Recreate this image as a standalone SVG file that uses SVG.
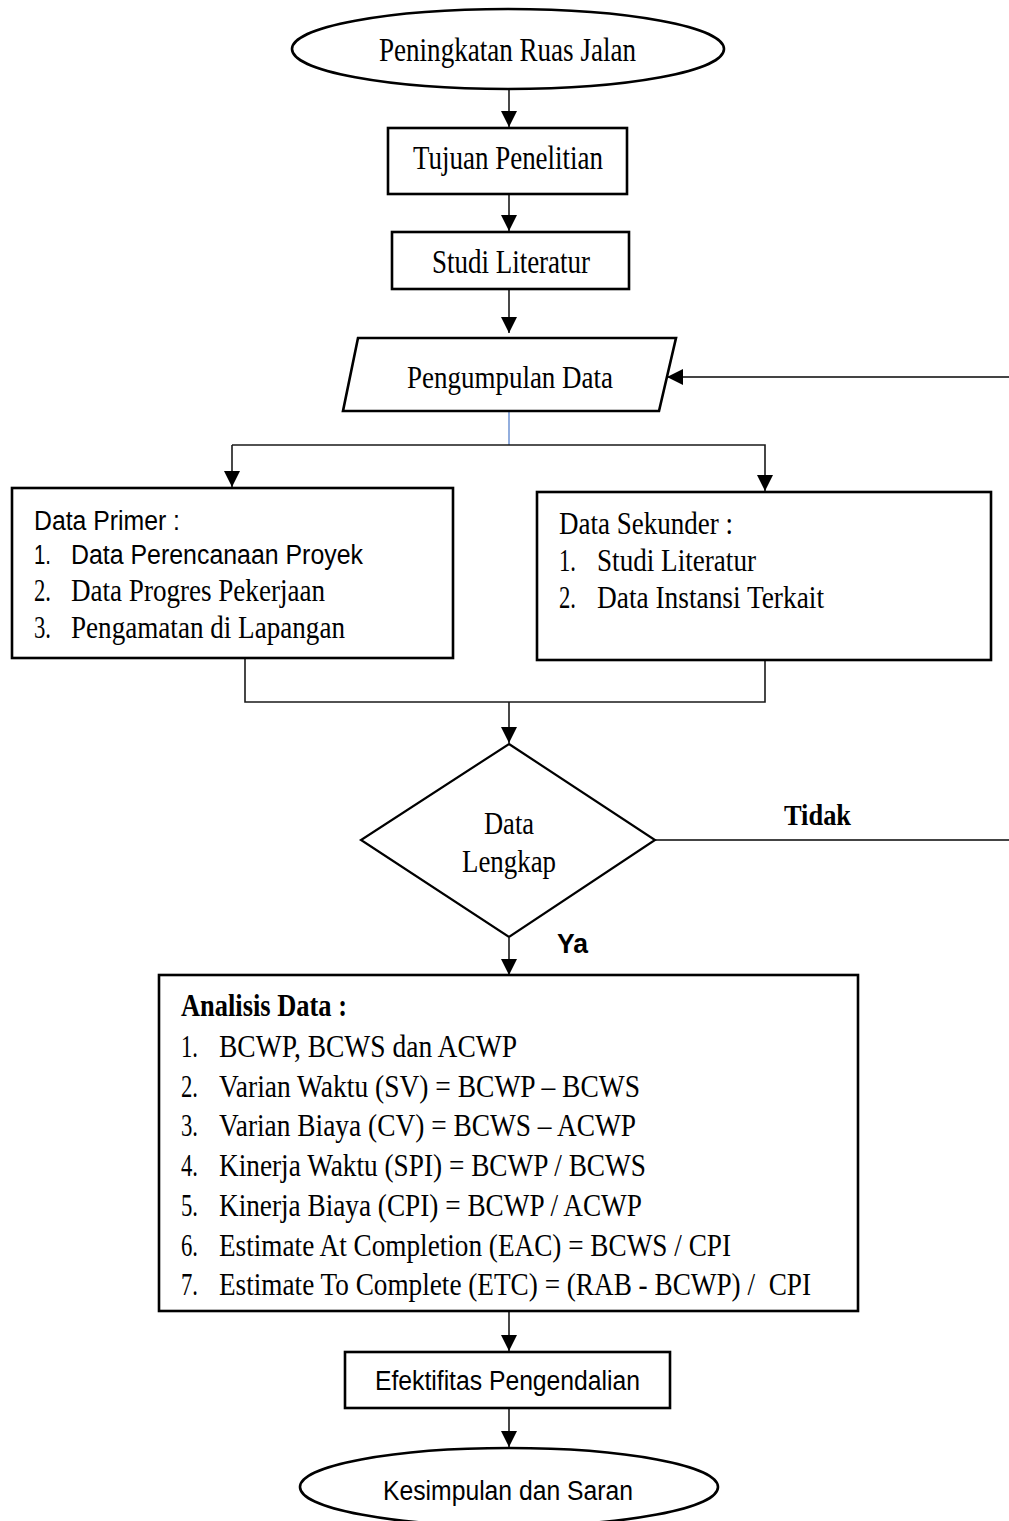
<svg xmlns="http://www.w3.org/2000/svg" width="1009" height="1521" viewBox="0 0 1009 1521">
<style>
.box{fill:#fff;stroke:#000;stroke-width:2.6}
.ln{fill:none;stroke:#1a1a1a;stroke-width:1.6}
.serif{font-family:"Liberation Serif","Times New Roman",serif;fill:#000}
.sans{font-family:"Liberation Sans",Arial,sans-serif;fill:#000}
</style>
<defs>
<marker id="ah" markerUnits="userSpaceOnUse" markerWidth="16" markerHeight="16" viewBox="0 0 16 16" refX="16" refY="8" orient="auto">
<path d="M0,0 L16,8 L0,16 Z" fill="#000"/>
</marker>
</defs>
<rect width="1009" height="1521" fill="#fff"/>

<g id="connectors">
<line class="ln" x1="509" y1="89" x2="509" y2="127" marker-end="url(#ah)"/>
<line class="ln" x1="509" y1="195" x2="509" y2="231" marker-end="url(#ah)"/>
<line class="ln" x1="509" y1="290" x2="509" y2="333" marker-end="url(#ah)"/>
<line x1="509" y1="411" x2="509" y2="445" stroke="#4a78c8" stroke-width="1.2"/>
<polyline class="ln" points="232,445 765,445 765,491" marker-end="url(#ah)"/>
<line class="ln" x1="232" y1="445" x2="232" y2="487" marker-end="url(#ah)"/>
<polyline class="ln" points="245,659 245,702 765,702 765,661"/>
<line class="ln" x1="509" y1="702" x2="509" y2="743" marker-end="url(#ah)"/>
<path d="M655,840 H1013 V377 H667" fill="none" stroke="#444" stroke-width="2" marker-end="url(#ah)"/>
<line class="ln" x1="509" y1="938" x2="509" y2="975" marker-end="url(#ah)"/>
<line class="ln" x1="509" y1="1312" x2="509" y2="1351" marker-end="url(#ah)"/>
<line class="ln" x1="509" y1="1409" x2="509" y2="1447" marker-end="url(#ah)"/>
<text class="serif" x="784" y="825" font-size="29" font-weight="bold" textLength="67" lengthAdjust="spacingAndGlyphs">Tidak</text>
<text class="sans" x="557" y="953" font-size="27" font-weight="bold" textLength="31" lengthAdjust="spacingAndGlyphs">Ya</text>
</g>

<g id="start">
<ellipse class="box" cx="508" cy="49" rx="216" ry="40"/>
<text class="serif" x="379" y="61" font-size="33" textLength="257" lengthAdjust="spacingAndGlyphs">Peningkatan Ruas Jalan</text>
</g>

<g id="tujuan">
<rect class="box" x="388" y="128" width="239" height="66"/>
<text class="serif" x="413" y="169" font-size="33" textLength="190" lengthAdjust="spacingAndGlyphs">Tujuan Penelitian</text>
</g>

<g id="studi">
<rect class="box" x="392" y="232" width="237" height="57"/>
<text class="serif" x="432" y="273" font-size="33" textLength="158" lengthAdjust="spacingAndGlyphs">Studi Literatur</text>
</g>

<g id="pengumpulan">
<polygon class="box" points="358,338 676,338 659,411 343,411"/>
<text class="serif" x="407" y="388" font-size="32" textLength="206" lengthAdjust="spacingAndGlyphs">Pengumpulan Data</text>
</g>

<g id="primer">
<rect class="box" x="12" y="488" width="441" height="170"/>
<text class="sans" x="34" y="530" font-size="27" textLength="146" lengthAdjust="spacingAndGlyphs">Data Primer :</text>
<text class="sans" x="34" y="564" font-size="27" textLength="17" lengthAdjust="spacingAndGlyphs">1.</text>
<text class="sans" x="71" y="564" font-size="27" textLength="292" lengthAdjust="spacingAndGlyphs">Data Perencanaan Proyek</text>
<text class="serif" x="34" y="601" font-size="31" textLength="17" lengthAdjust="spacingAndGlyphs">2.</text>
<text class="serif" x="71" y="601" font-size="31" textLength="254" lengthAdjust="spacingAndGlyphs">Data Progres Pekerjaan</text>
<text class="serif" x="34" y="638" font-size="31" textLength="17" lengthAdjust="spacingAndGlyphs">3.</text>
<text class="serif" x="71" y="638" font-size="31" textLength="274" lengthAdjust="spacingAndGlyphs">Pengamatan di Lapangan</text>
</g>

<g id="sekunder">
<rect class="box" x="537" y="492" width="454" height="168"/>
<text class="serif" x="559" y="534" font-size="31" textLength="174" lengthAdjust="spacingAndGlyphs">Data Sekunder :</text>
<text class="serif" x="559" y="571" font-size="31" textLength="17" lengthAdjust="spacingAndGlyphs">1.</text>
<text class="serif" x="597" y="571" font-size="31" textLength="159" lengthAdjust="spacingAndGlyphs">Studi Literatur</text>
<text class="serif" x="559" y="608" font-size="31" textLength="17" lengthAdjust="spacingAndGlyphs">2.</text>
<text class="serif" x="597" y="608" font-size="31" textLength="227" lengthAdjust="spacingAndGlyphs">Data Instansi Terkait</text>
</g>

<g id="keputusan">
<polygon points="509,744 655,840 509,937 361,840" fill="#fff" stroke="#000" stroke-width="2.2"/>
<text class="serif" x="484" y="834" font-size="31" textLength="50" lengthAdjust="spacingAndGlyphs">Data</text>
<text class="serif" x="462" y="872" font-size="31" textLength="94" lengthAdjust="spacingAndGlyphs">Lengkap</text>
</g>

<g id="analisis">
<rect class="box" x="159" y="975" width="699" height="336"/>
<text class="serif" x="181" y="1016" font-size="31" font-weight="bold" textLength="166" lengthAdjust="spacingAndGlyphs">Analisis Data :</text>
<text class="serif" x="181" y="1057" font-size="31" textLength="17" lengthAdjust="spacingAndGlyphs">1.</text>
<text class="serif" x="219" y="1057" font-size="31" textLength="298" lengthAdjust="spacingAndGlyphs">BCWP, BCWS dan ACWP</text>
<text class="serif" x="181" y="1097" font-size="31" textLength="17" lengthAdjust="spacingAndGlyphs">2.</text>
<text class="serif" x="219" y="1097" font-size="31" textLength="421" lengthAdjust="spacingAndGlyphs">Varian Waktu (SV) = BCWP – BCWS</text>
<text class="serif" x="181" y="1136" font-size="31" textLength="17" lengthAdjust="spacingAndGlyphs">3.</text>
<text class="serif" x="219" y="1136" font-size="31" textLength="417" lengthAdjust="spacingAndGlyphs">Varian Biaya (CV) = BCWS – ACWP</text>
<text class="serif" x="181" y="1176" font-size="31" textLength="17" lengthAdjust="spacingAndGlyphs">4.</text>
<text class="serif" x="219" y="1176" font-size="31" textLength="427" lengthAdjust="spacingAndGlyphs">Kinerja Waktu (SPI) = BCWP / BCWS</text>
<text class="serif" x="181" y="1216" font-size="31" textLength="17" lengthAdjust="spacingAndGlyphs">5.</text>
<text class="serif" x="219" y="1216" font-size="31" textLength="423" lengthAdjust="spacingAndGlyphs">Kinerja Biaya (CPI) = BCWP / ACWP</text>
<text class="serif" x="181" y="1256" font-size="31" textLength="17" lengthAdjust="spacingAndGlyphs">6.</text>
<text class="serif" x="219" y="1256" font-size="31" textLength="512" lengthAdjust="spacingAndGlyphs">Estimate At Completion (EAC) = BCWS / CPI</text>
<text class="serif" x="181" y="1295" font-size="31" textLength="17" lengthAdjust="spacingAndGlyphs">7.</text>
<text class="serif" x="219" y="1295" font-size="31" textLength="592" lengthAdjust="spacingAndGlyphs" xml:space="preserve">Estimate To Complete (ETC) = (RAB - BCWP) /  CPI</text>
</g>

<g id="efektifitas">
<rect class="box" x="345" y="1352" width="325" height="56"/>
<text class="sans" x="375" y="1390" font-size="27" textLength="265" lengthAdjust="spacingAndGlyphs">Efektifitas Pengendalian</text>
</g>

<g id="selesai">
<ellipse class="box" cx="509" cy="1487" rx="209" ry="39"/>
<text class="sans" x="383" y="1500" font-size="27" textLength="250" lengthAdjust="spacingAndGlyphs">Kesimpulan dan Saran</text>
</g>
</svg>
